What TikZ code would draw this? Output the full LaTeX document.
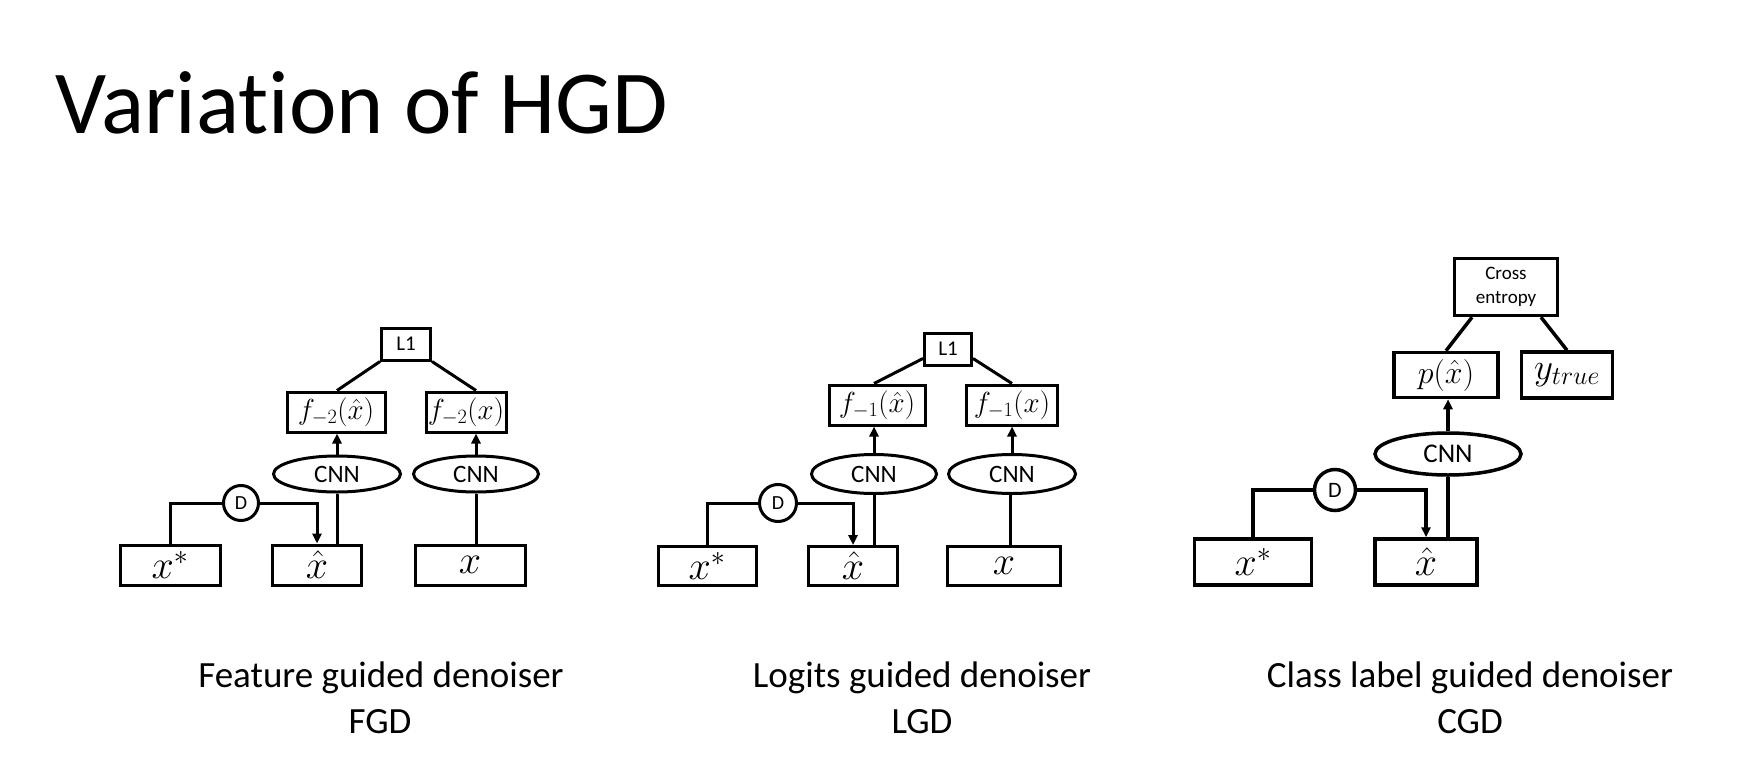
\RequirePackage{fix-cm}
\documentclass[tikz,border=0pt]{standalone}
\usepackage[no-math]{fontspec}
\setmainfont[Ligatures=NoCommon]{Carlito}
\usetikzlibrary{
  arrows.meta,
  positioning,
  shapes.geometric,
}
\tikzset{
  >={Triangle[length=10pt,width=9pt]},
  box/.style={draw, inner sep=0pt},
  cnnnode/.style={draw, ellipse, inner sep=0pt, font=\fontsize{25}{25}\selectfont},
  dnode/.style={draw, circle, inner sep=0pt, font=\fontsize{20}{20}\selectfont},
  caption/.style={anchor=base, inner sep=0pt, font=\fontsize{37}{37}\selectfont},
  fmath/.style={font=\fontsize{29}{29}\selectfont},
  bmath/.style={font=\fontsize{40}{40}\selectfont},
}

\begin{document}
\begin{tikzpicture}[x=1pt, y=-1pt]
  \useasboundingbox (0, 0) rectangle (1740, 765);
  \node [anchor=base west, inner sep=0pt, font=\fontsize{90}{90}\selectfont] (title) at (55, 134) {Variation of HGD};

  % feature guided
  \begin{scope}[line width=3pt]
    \node [box, minimum width=49pt, minimum height=32pt, font=\fontsize{21}{21}\selectfont] (l1a) at (406, 344) {L1};
    \node [box, fmath, minimum width=98pt, minimum height=40pt] (fa1) at (336, 412) {$f_{-2}(\hat{x})$};
    \node [box, fmath, minimum width=80pt, minimum height=40pt] (fa2) at (466, 412) {$f_{-2}(x)$};
    \node [cnnnode, minimum width=127pt, minimum height=36pt] (cnna1) at (337, 474) {CNN};
    \node [cnnnode, minimum width=125pt, minimum height=36pt] (cnna2) at (476, 474) {CNN};
    \node [dnode, minimum size=35pt] (da) at (241, 503) {D};
    \node [box, bmath, minimum width=100pt, minimum height=40pt] (xsa) at (170, 565) {$x^*$};
    \node [box, bmath, minimum width=89pt, minimum height=40pt] (xha) at (317, 565) {$\hat{x}$};
    \node [box, bmath, minimum width=110pt, minimum height=40pt] (xa) at (470, 565) {$x$};

    \draw (xsa.north) |- (da.west);
    \draw [->] (da.east) -| (xha.north);
    \draw (cnna1 |- xha.north) -- (cnna1.south);
    \draw [->] (cnna1.north) -- (cnna1 |- fa1.south);
    \draw (cnna2 |- xa.north) -- (cnna2.south);
    \draw [->] (cnna2.north) -- (cnna2 |- fa2.south);
    \draw (l1a.south west) -- (cnna1 |- fa1.north);
    \draw (l1a.south east) -- (cnna2 |- fa2.north);
  \end{scope}
  \node [caption] (capa1) at (381, 687) {Feature guided denoiser};
  \node [caption] (capa2) at (380, 733) {FGD};

  % logits guided
  \begin{scope}[line width=3pt]
    \node [box, minimum width=47pt, minimum height=32pt, font=\fontsize{21}{21}\selectfont] (l1b) at (948, 349) {L1};
    \node [box, fmath, minimum width=96pt, minimum height=40pt] (fb1) at (877, 405) {$f_{-1}(\hat{x})$};
    \node [box, fmath, minimum width=91pt, minimum height=40pt] (fb2) at (1012, 405) {$f_{-1}(x)$};
    \node [cnnnode, minimum width=125pt, minimum height=39pt] (cnnb1) at (874, 474) {CNN};
    \node [cnnnode, minimum width=127pt, minimum height=39pt] (cnnb2) at (1012, 474) {CNN};
    \node [dnode, minimum size=37pt] (db) at (778, 503) {D};
    \node [box, bmath, minimum width=98pt, minimum height=39pt] (xsb) at (707, 566) {$x^*$};
    \node [box, bmath, minimum width=89pt, minimum height=39pt] (xhb) at (853, 566) {$\hat{x}$};
    \node [box, bmath, minimum width=113pt, minimum height=39pt] (xb) at (1004, 566) {$x$};

    \draw (xsb.north) |- (db.west);
    \draw [->] (db.east) -| (xhb.north);
    \draw (cnnb1 |- xhb.north) -- (cnnb1.south);
    \draw [->] (cnnb1.north) -- (cnnb1 |- fb1.south);
    \draw ([xshift=6pt]xb.north) -- ([xshift=6pt]xb.north |- cnnb2.south);
    \draw [->] (cnnb2.north) -- (cnnb2 |- fb2.south);
    \draw ([yshift=8pt]l1b.south west) -- (cnnb1 |- fb1.north);
    \draw ([yshift=8pt]l1b.south east) -- (cnnb2 |- fb2.north);
  \end{scope}
  \node [caption] (capb1) at (922, 687) {Logits guided denoiser};
  \node [caption] (capb2) at (922, 733) {LGD};

  % class label guided
  \begin{scope}[line width=3.5pt]
    \node [box, minimum width=103pt, minimum height=57pt, align=center, font=\fontsize{19}{24}\selectfont] (ce) at (1506, 287) {Cross\\entropy};
    \node [box, minimum width=104pt, minimum height=45pt, font=\fontsize{32}{32}\selectfont] (pc) at (1446, 375) {$p(\hat{x})$};
    \node [box, minimum width=91pt, minimum height=46pt, font=\fontsize{37}{37}\selectfont] (yc) at (1567, 375) {$y_{true}$};
    \node [cnnnode, minimum width=146pt, minimum height=42pt, font=\fontsize{27}{27}\selectfont] (cnnc) at (1448, 454) {CNN};
    \node [dnode, minimum size=41pt, font=\fontsize{22}{22}\selectfont] (dc) at (1335, 490) {D};
    \node [box, bmath, minimum width=117pt, minimum height=46pt] (xsc) at (1253, 562) {$x^*$};
    \node [box, bmath, minimum width=102pt, minimum height=46pt] (xhc) at (1426, 562) {$\hat{x}$};

    \draw (xsc.north) |- (dc.west);
    \draw [->] (dc.east) -| (xhc.north);
    \draw (cnnc |- xhc.north) -- (cnnc.south);
    \draw [->] (cnnc.north) -- (cnnc |- pc.south);
    \draw ([xshift=-34pt]ce.south) -- (pc.north);
    \draw ([xshift=35pt]ce.south) -- (yc.north);
  \end{scope}
  \node [caption] (capc1) at (1470, 687) {Class label guided denoiser};
  \node [caption] (capc2) at (1470, 733) {CGD};
\end{tikzpicture}
\end{document}
